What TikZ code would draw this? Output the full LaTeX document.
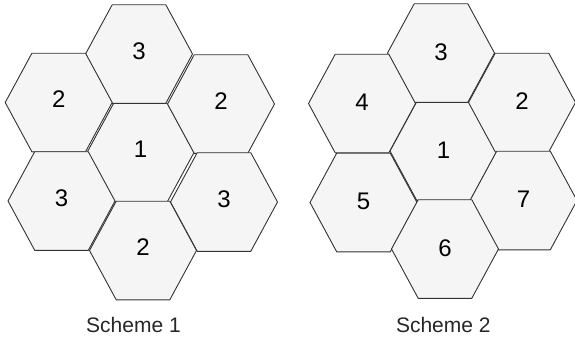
\documentclass[tikz,border=0pt]{standalone}
\usepackage{fontspec}
\setmainfont{Liberation Sans}
\usetikzlibrary{positioning}

\definecolor{cellfill}{HTML}{F5F5F5}
\definecolor{cellline}{HTML}{333333}

\tikzset{
  cell/.style = {draw=cellline, fill=cellfill, line width=0.9pt, line join=miter},
  num/.style = {font=\fontsize{24}{28}\selectfont, text=black, inner sep=0pt},
  caption/.style = {font=\fontsize{21}{24}\selectfont, text=black!85, inner sep=0pt}
}

\begin{document}
\begin{tikzpicture}[x=1pt, y=-1pt]
  \useasboundingbox (0,0) rectangle (575,343);
  \clip (0,0) rectangle (575,343);

  % scheme 1: three colours reused
  \foreach \name/\x/\y/\num in {aone/140.5/152.5/1, atop/139/54/3, aul/58.7/102.5/2,
      aur/221/104/2, all/61.5/201/3, alr/224/202/3, abot/143/250.5/2} {
    \draw[cell] (\x,\y) +(-53.5,0) -- +(-26.8,-49.3) -- +(26.8,-49.3)
      -- +(53.5,0) -- +(26.8,49.3) -- +(-26.8,49.3) -- cycle;
    \node[num] (\name) at (\x,\y-3) {\num};
  }
  \node[caption] (sone) at (133.5,325) {Scheme 1};

  % scheme 2: every cell its own number
  \foreach \name/\x/\y/\num in {bone/443.5/151/1, btop/441/53/3, bul/362/103.5/4,
      bur/522/102.5/2, bll/363.5/202.5/5, blr/523.5/200.5/7, bbot/445/249/6} {
    \draw[cell] (\x,\y) +(-53.5,0) -- +(-26.8,-49.3) -- +(26.8,-49.3)
      -- +(53.5,0) -- +(26.8,49.3) -- +(-26.8,49.3) -- cycle;
    \node[num] (\name) at (\x,\y-1) {\num};
  }
  \node[caption] (stwo) at (443.3,325) {Scheme 2};
\end{tikzpicture}
\end{document}
